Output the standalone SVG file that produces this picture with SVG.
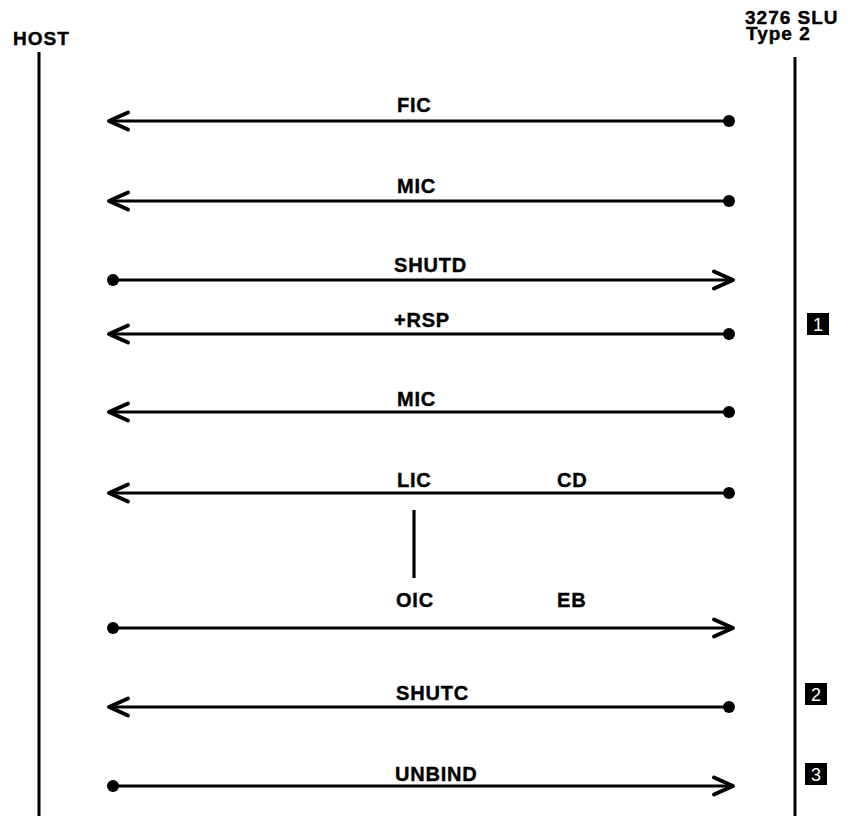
<svg xmlns="http://www.w3.org/2000/svg" width="848" height="816" viewBox="0 0 848 816">
<style>
  .lbl { font-family: "Liberation Sans", Arial, sans-serif; font-weight: bold; font-size: 20px; fill: #000; letter-spacing: 0.8px; stroke: #000; stroke-width: 0.4px; }
  .hdr { font-family: "Liberation Sans", Arial, sans-serif; font-weight: bold; font-size: 19px; fill: #000; stroke: #000; stroke-width: 0.4px; letter-spacing: 1px; }
  .life { stroke: #000; stroke-width: 3; fill: none; }
  .msg { stroke: #000; stroke-width: 3.2; fill: none; marker-start: url(#dot); marker-end: url(#head); }
  .badge rect { fill: #000; }
  .badge text { font-family: "Liberation Sans", Arial, sans-serif; font-size: 18px; fill: #fff; text-anchor: middle; }
</style>
<defs>
  <marker id="head" markerUnits="userSpaceOnUse" markerWidth="30" markerHeight="30" viewBox="-25 -12 30 24" refX="0" refY="0" orient="auto" overflow="visible">
    <path d="M -19 -8.5 L 0 0 L -19 8.5" fill="none" stroke="#000" stroke-width="4" stroke-linecap="round" stroke-linejoin="round"/>
  </marker>
  <marker id="dot" markerUnits="userSpaceOnUse" markerWidth="14" markerHeight="14" viewBox="-7 -7 14 14" refX="0" refY="0" orient="auto" overflow="visible">
    <circle cx="0" cy="0" r="6" fill="#000"/>
  </marker>
</defs>
<rect width="848" height="816" fill="#fff"/>

<g id="host">
  <text class="hdr" x="13" y="45">HOST</text>
  <line class="life" x1="39" y1="52" x2="39" y2="816"/>
</g>
<g id="slu">
  <text class="hdr" x="745" y="24">3276 SLU</text>
  <text class="hdr" x="746" y="40">Type 2</text>
  <line class="life" x1="795" y1="57" x2="795" y2="816"/>
</g>

<g id="connectors">
  <line class="msg" x1="729" y1="121" x2="109" y2="121"/>
  <line class="msg" x1="729" y1="201" x2="109" y2="201"/>
  <line class="msg" x1="113" y1="280" x2="733" y2="280"/>
  <line class="msg" x1="729" y1="334" x2="109" y2="334"/>
  <line class="msg" x1="729" y1="412" x2="109" y2="412"/>
  <line class="msg" x1="729" y1="493" x2="109" y2="493"/>
  <line class="msg" x1="113" y1="628" x2="733" y2="628"/>
  <line class="msg" x1="729" y1="707" x2="109" y2="707"/>
  <line class="msg" x1="113" y1="786" x2="733" y2="786"/>
  <line x1="414" y1="510" x2="414" y2="578" stroke="#000" stroke-width="3.2"/>
</g>

<g id="labels">
  <text class="lbl" x="397" y="112">FIC</text>
  <text class="lbl" x="397" y="193">MIC</text>
  <text class="lbl" x="394" y="272">SHUTD</text>
  <text class="lbl" x="394" y="327">+RSP</text>
  <text class="lbl" x="397" y="406">MIC</text>
  <text class="lbl" x="397" y="487">LIC</text>
  <text class="lbl" x="557" y="487">CD</text>
  <text class="lbl" x="396" y="607">OIC</text>
  <text class="lbl" x="557" y="607">EB</text>
  <text class="lbl" x="396" y="700">SHUTC</text>
  <text class="lbl" x="395" y="781">UNBIND</text>
</g>

<g id="badge1" class="badge">
  <rect x="807" y="313" width="22" height="22"/>
  <text x="818" y="330.5">1</text>
</g>
<g id="badge2" class="badge">
  <rect x="805" y="683" width="22" height="22"/>
  <text x="816" y="700.5">2</text>
</g>
<g id="badge3" class="badge">
  <rect x="805" y="763" width="22" height="22"/>
  <text x="816" y="780.5">3</text>
</g>
</svg>
